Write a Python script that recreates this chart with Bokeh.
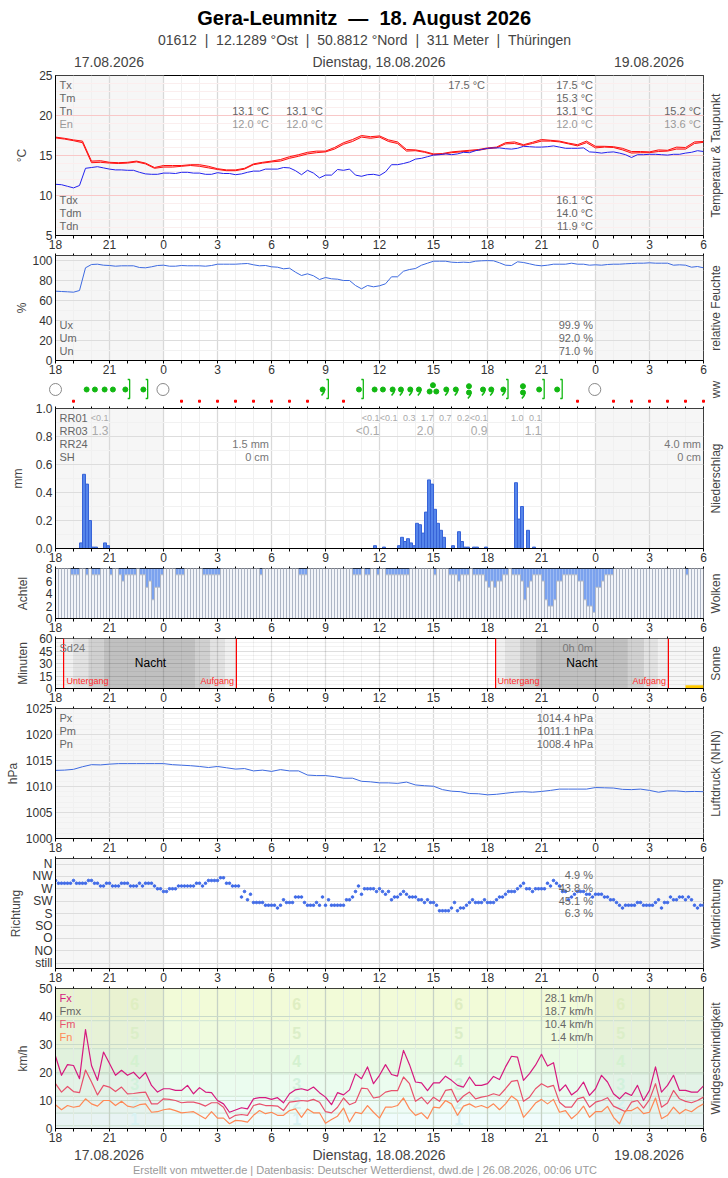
import math
import numpy as np
from bokeh.embed import file_html
from bokeh.resources import INLINE
from bokeh.layouts import column
from bokeh.plotting import figure
from bokeh.models import Range1d, FixedTicker, Label, NumeralTickFormatter
from bokeh.core.properties import value

FONT = "Liberation Sans"

# ---------- data ----------
tx = [17.3,17.15,16.95,16.8,14.3,14.35,14.15,14.1,14.15,14.3,14.05,13.5,13.75,13.75,13.75,13.85,13.85,13.65,13.35,13.2,13.2,13.4,13.95,14.15,14.3,14.5,14.85,15.1,15.4,15.55,15.55,16.0,16.6,17.0,17.5,17.35,17.45,16.95,16.7,15.75,15.7,15.5,15.2,15.25,15.45,15.55,15.65,15.75,15.95,16.05,16.6,16.7,16.35,16.65,17.0,16.9,16.8,16.55,16.35,16.8,16.15,16.15,16.1,15.9,15.5,15.5,15.45,15.7,15.65,16.05,16.0,16.7,16.75]
tn = [17.2,17.05,16.85,16.6,14.1,14.15,14.05,14.0,14.05,14.2,13.95,13.4,13.55,13.55,13.65,13.75,13.65,13.45,13.25,13.1,13.1,13.3,13.85,14.05,14.2,14.3,14.65,14.9,15.2,15.35,15.45,15.8,16.4,16.75,17.3,17.15,17.3,16.75,16.5,15.55,15.6,15.4,15.1,15.15,15.35,15.45,15.55,15.65,15.85,15.95,16.45,16.5,16.25,16.5,16.8,16.8,16.7,16.45,16.2,16.6,15.95,16.05,16.0,15.7,15.3,15.35,15.35,15.5,15.55,15.8,15.8,16.5,16.65]
td = [11.4,11.35,11.15,10.95,11.25,13.4,13.5,13.6,13.45,13.3,13.2,13.2,13.15,13.15,12.9,12.7,12.65,12.65,12.8,12.8,12.75,12.9,12.9,12.8,12.8,12.65,12.65,12.85,12.75,12.75,12.6,12.7,12.9,13.05,13.05,13.3,13.3,13.3,13.5,13.45,13.1,12.6,13.15,12.8,12.2,12.55,12.55,13.25,13.15,13.3,12.55,12.4,12.6,12.65,12.5,12.95,13.85,13.85,14.0,14.2,14.55,14.65,14.85,15.05,15.1,15.2,15.1,15.2,15.4,15.35,15.6,15.75,15.9,15.95,15.95,15.85,15.8,15.9,16.15,16.1,16.05,16.05,16.1,16.2,16.05,15.9,15.9,15.9,15.95,15.45,15.4,15.3,15.4,15.45,15.3,15.1,14.75,15.1,15.1,15.15,15.15,15.1,15.05,15.15,15.15,15.3,15.4,15.6,15.5]
humidity = [69.3,69,68.7,68.3,70,92.7,96,96.3,95.3,95,94.3,94.7,94.7,94.7,93,92.7,93.7,95,95.3,94.3,94.3,95,94.7,94.7,94.7,94.3,95,96.3,96.3,96.3,96.3,96.7,97,95.7,94.7,95,93.7,93.3,91.7,92.3,88.3,85,86.7,84.7,81,83,81.7,81.3,80,80,75,71.7,75,73.7,74.7,76.7,83.7,83.7,89.3,91,92,95.3,97.3,99.3,99.3,99.3,98.3,98,98.3,98,99.3,99.7,99.9,99.7,97.7,95.3,95,98.7,98,96.7,95.3,94.7,95.3,96.3,96.3,96.3,97.3,96.3,96.3,95.3,95.7,95.3,96,96.3,96.3,96.7,97,97.3,97.3,97.7,97.3,97.3,97.3,95.3,95.7,95.3,93.3,94,92.7]
pressure = [1013.1,1013.15,1013.3,1013.8,1014.2,1014.15,1014.3,1014.4,1014.4,1014.4,1014.4,1014.4,1014.4,1014.2,1014.1,1014.0,1013.85,1013.65,1013.85,1013.6,1013.35,1013.45,1013.0,1013.15,1012.9,1013.25,1013.0,1013.0,1012.2,1012.1,1012.1,1011.9,1011.6,1011.6,1011.0,1010.9,1010.7,1010.7,1010.6,1010.85,1010.3,1010.15,1010.05,1009.4,1009.1,1009.0,1008.65,1008.6,1008.4,1008.5,1008.7,1008.9,1009.0,1008.9,1009.05,1009.25,1009.5,1009.5,1009.5,1009.5,1009.8,1009.75,1009.7,1009.45,1009.4,1009.5,1009.25,1008.9,1009.15,1009.15,1009.0,1009.05,1009.0]
wind_dir = [300,290,290,290,290,290,300,290,290,290,290,300,300,290,290,280,280,290,290,280,280,280,290,290,290,280,280,280,290,280,290,290,290,280,270,270,260,260,270,270,270,280,280,280,280,280,280,290,290,280,290,300,300,300,300,310,310,290,290,280,280,280,240,260,230,250,220,220,220,220,210,210,210,210,200,210,230,220,220,220,240,240,240,220,210,210,210,220,210,240,210,230,210,210,210,210,210,230,230,240,260,280,250,270,270,270,270,260,270,260,250,260,230,240,240,250,260,250,240,240,240,230,230,220,230,220,220,210,190,190,190,190,200,220,190,200,200,210,220,230,220,220,220,230,220,220,220,230,240,240,250,260,260,260,270,280,290,270,270,260,270,270,270,270,290,280,300,290,280,260,260,230,240,250,260,260,260,250,250,240,250,250,250,240,240,230,230,220,210,200,210,210,210,210,220,220,210,210,210,210,220,230,200,220,220,240,230,230,240,240,230,240,230,210,200,210,210]
fx = [25.8,19,22.8,22.5,17.8,35.3,22.5,17.2,27.3,23.2,19,20.8,19,20.1,17.8,20,15.4,13,14.2,14.2,13.6,13.6,15.4,12.4,14.6,13,12.8,10,8.8,5.8,6.6,7.4,7,10.6,11,11,10.4,11,9.2,12.4,13.8,14.2,13.6,14.8,12.8,11.2,8.5,12.8,12,13.8,19.5,17.8,22,16,19,22.8,19.3,18.7,27.9,22.8,16.6,16.3,13.5,16.3,16.3,18.7,17.2,15.4,14.8,18.4,15.4,15.4,16,18.6,17.5,22,25.8,25.5,17.2,19.6,22.6,26.5,22.3,23.5,13.4,15.6,12,13.6,16.6,11.8,14.2,19,16.6,12.4,10.6,12.8,11.8,15.4,10,13.6,22,13,15.4,19,13.6,13.6,13,13,15.2]
fm = [16,13,15,13.2,12.8,20.9,16.6,12,15.4,14.8,13.2,14.8,12.4,12.5,12.8,13,8.8,8.8,10.6,10.4,10,9.2,9.4,9.4,8.9,8,9.2,9.2,7.6,3.5,4.7,5,4.7,8.2,8.8,8.2,8.2,8,6.4,9.4,9.7,10,9.8,10.4,9.4,6,5.6,7.6,10.9,8.5,9.4,14.4,14.2,10.9,11.3,13,13.5,13.5,18.4,16,9.7,11.2,8.8,11.2,9.7,13.6,14,9.4,11.6,13,10.6,11.2,11.6,12.4,11.8,14.2,16.8,17.2,9.7,11.2,14.2,16,14.8,15.4,9.4,7.6,7.6,10.6,11.2,7.6,9.4,10,11,8,7,6,9.4,10,7.3,10.3,16,7.6,9.1,13.6,10.6,9.7,9.2,10,11.2]
fn = [8.5,6.7,8.2,7.6,8,10.6,8.8,8,10,10,8.2,9.7,8,7.6,8.5,8.8,5.8,6,6.7,7,6.4,5.6,5.8,6,4.7,3.5,6,3.7,3.7,1.7,2.9,2.7,2.3,4.7,6.4,5.3,5.8,4.7,4.7,6.4,7,4,7,5.6,5.6,1.9,3.2,4.4,7.3,2.3,5.8,5.3,8.2,5.8,3.7,7.6,7.6,8.2,10.9,7,4.7,5.6,3.5,7.6,7.4,10,8.8,4.7,8,8.8,7.6,8.2,7.3,8.8,6.7,8.8,11.6,10,4,6.4,9.1,10.4,8.8,10.4,5.8,6.4,3.5,5.3,8,4,6,6,7.9,4,1.7,6.4,6.4,7.6,5.3,5.8,10.9,3.5,4.7,7.6,5.3,6.8,6,7.6,8.8]
clouds = [8,8,8,8,8,7,7,7,8,8,7,8,7,7,7,8,8,8,
          7,8,8,7,6,7,7,7,7,8,7,7,5,6,3,5,5,7,
          8,8,8,8,7,7,7,8,8,8,8,8,8,7,7,7,7,7,
          7,8,8,8,8,8,8,8,8,8,8,8,8,8,7,8,8,8,
          8,8,8,8,8,8,8,8,8,7,7,7,8,8,8,8,8,8,
          8,8,8,8,8,8,8,8,8,7,7,7,8,7,7,8,8,7,
          8,8,7,7,7,7,7,7,7,7,8,8,8,8,8,8,8,8,
          7,8,8,8,8,7,7,7,6,7,7,7,8,7,7,7,7,6,
          5,6,5,6,6,7,7,8,7,7,7,6,3,5,6,7,7,7,
          6,3,2,2,3,6,6,7,7,7,7,7,6,6,3,2,2,1,
          5,5,6,7,7,7,8,8,8,8,8,8,8,8,8,8,8,8,
          8,8,8,8,8,8,8,8,8,8,8,8,7,8,8,8,8,8]
rr_slots = [8,9,10,11,12,13,16,17,106,109,114,115,116,117,118,119,120,121,122,123,124,125,126,127,128,129,132,134,135,136,137,139,140,143,153,154,155,157,159]
rr_values = [.04,.53,.46,.2,.01,.01,.04,.02,.02,.01,.02,.08,.05,.07,.04,.02,.18,.17,.11,.26,.49,.46,.28,.18,.13,.08,.02,.12,.05,.01,.01,.01,.01,.01,.47,.21,.30,.13,.01]
rr01_hours = [18,19,20,21,22,23,24,26,27]
rr01_texts = ["<0.1","<0.1","0.3","1.7","0.7","0.2","<0.1","1.0","0.1"]
rr03_hours = [18,21,24,27]
rr03_texts = ["<0.1","2.0","0.9","1.1"]
ww_clear = [0.0, 5.97, 29.96]
ww_rain = [1.73,2.19,2.73,3.19,3.88,4.88,16.86,17.73,18.19,26.87,27.87]
ww_drizzle = [14.84,18.73,19.19,19.71,20.19,21.71,22.24,23.75,24.21,24.88]
ww_dots_three = [20.97]
ww_double = [22.97,25.97]
ww_shower = [4.12,5.12,15.16,17.1,25.14,27.15,28.15]
ww_marker = [1,7,8,9,10,11,12,13,14,16,29,31,32,33,34,35,36]
sunset = [0.45, 24.45]
sunrise = [10.05, 34.05]
twilight_left = [0.45,1.03,1.82,2.69,7.75,8.62,9.42, 24.45,25.0,25.8,26.69,31.8,32.7,33.47]
twilight_right = [1.03,1.82,2.69,7.75,8.62,9.42,10.05, 25.0,25.8,26.69,31.8,32.7,33.47,34.05]
twilight_colors = ["#f0f0f0","#e2e2e2","#d0d0d0","#c0c0c0","#d0d0d0","#e2e2e2","#f0f0f0"]*2
sun_hours = [35]
sun_minutes = [4]
bft_edges = [0,1,5.5,11.5,19.5,28.5,38.5,50]
bft_colors = ["#f1fafb","#f0fcfc","#eefcf7","#ebfcef","#e9fbe5","#effbde","#f2fbd8"]
bft_numbers = ["1","2","3","4","5","6"]
bft_levels = [3.5,9,16,24,34,44.6]
bft_number_colors = ["#d9f2f3","#d4f2ee","#d2f1dc","#d4f1d0","#dbeec8","#dfeec2"]
bft_hours = [4.4,13.4,22.4,31.4]

hours = list(range(37))
night_left = [0, 30]
night_right = [6, 36]

x30 = np.arange(len(tx)) * 0.5
x20 = np.arange(len(td)) / 3
x10 = np.arange(len(wind_dir)) / 6

# ---------- helpers ----------
FL = 55
SC = 18
W = 724
PAGE_H = 1176
maj3 = [h for h in hours if h % 3 == 0]
min1 = [h for h in hours if h % 3 != 0]
hour_labels = {h: str((18 + h) % 24) for h in maj3}
TXT = "#333333"

# transparent sheet over all panels: free texts and the panels' upper tick marks, in page pixels
ov = figure(width=W, height=PAGE_H, x_range=Range1d(0, W), y_range=Range1d(PAGE_H, 0),
            min_border_left=0, min_border_right=0, min_border_top=0, min_border_bottom=0,
            output_backend="svg", toolbar_location=None, border_fill_color=None,
            background_fill_color=None, outline_line_color=None, x_axis_type=None, y_axis_type=None,
            frame_align=False, margin=(-PAGE_H, 0, 0, 0))
ov.xgrid.visible = False
ov.ygrid.visible = False


def lab(px, py, text, size=11, color="#666666", align="left", bold=False, angle=0):
    shift = 0 if angle else -1
    ov.add_layout(Label(x=px, y=py + shift, text=text, text_font=FONT, text_font_size=f"{size}px",
                        text_color=color, text_align=align, text_baseline="middle",
                        text_font_style="bold" if bold else "normal", angle=angle))


def panel(top, bot, ymin, ymax, T, B, margin, ylabel, standoff, yticks, yminor,
          rlabel, gmaj="#dddddd", gmin="#f1f1f1", top_axis=True, shade=True, overrides=None, fmt=None):
    h = bot - top
    p = figure(width=W, height=T + h + B, x_range=Range1d(0, 36), y_range=Range1d(ymin, ymax),
               min_border_left=FL, min_border_right=W - FL - 648, min_border_top=T, min_border_bottom=B,
               output_backend="svg", toolbar_location=None, border_fill_color=None,
               background_fill_color=None, outline_line_color="black", outline_line_width=1,
               frame_align=False, margin=(margin, 0, 0, 0))
    xa = p.xaxis[0]
    xa.ticker = FixedTicker(ticks=maj3, minor_ticks=min1)
    xa.major_label_overrides = hour_labels
    xa.major_tick_in = 0
    xa.major_tick_out = 3
    xa.minor_tick_in = 0
    xa.minor_tick_out = 3
    xa.minor_tick_line_color = "black"
    xa.axis_line_color = "black"
    xa.major_label_standoff = 1
    xa.major_label_text_font = FONT
    xa.major_label_text_font_size = "12px"
    xa.major_label_text_color = TXT
    ya = p.yaxis[0]
    ya.ticker = FixedTicker(ticks=yticks)
    if overrides:
        ya.major_label_overrides = overrides
    if fmt:
        ya.formatter = NumeralTickFormatter(format=fmt)
    ya.major_tick_line_color = None
    ya.minor_tick_line_color = None
    ya.major_tick_in = 0
    ya.major_tick_out = 0
    ya.major_label_standoff = 3
    ya.major_label_text_font = FONT
    ya.major_label_text_font_size = "12px"
    ya.major_label_text_color = TXT
    ya.axis_line_color = "black"
    ya.axis_label = ylabel
    ya.axis_label_text_font = FONT
    ya.axis_label_text_font_size = "12px"
    ya.axis_label_text_font_style = "normal"
    ya.axis_label_text_color = "#444444"
    ya.axis_label_standoff = standoff
    gx = p.xgrid[0]
    gx.ticker = FixedTicker(ticks=maj3, minor_ticks=min1)
    gx.grid_line_color = "#d9d9d9"
    gx.grid_line_width = 1.3
    gx.minor_grid_line_color = "#f0f0f0"
    gy = p.ygrid[0]
    gy.ticker = FixedTicker(ticks=yticks, minor_ticks=yminor)
    gy.grid_line_color = gmaj
    gy.minor_grid_line_color = gmin
    if top_axis:
        tx0 = [FL + t * SC for t in hours]
        ov.segment(x0=tx0, y0=[top - 2] * len(tx0), x1=tx0, y1=[top] * len(tx0), line_color="black", line_width=1)
    if shade:
        p.quad(left=night_left, right=night_right, bottom=[ymin, ymin], top=[ymax, ymax],
               fill_color="#f6f6f6", line_color=None, level="image")
    lab(715, (top + bot) / 2, rlabel, 12, "#444444", "center", angle=math.pi / 2)
    return p


def rows(items, size=11):
    for it in items:
        lab(it[0], it[1], it[2], size, it[3] if len(it) > 3 else "#666666",
            it[4] if len(it) > 4 else "left")


RX = 592.5
GR = "#666666"
LG = "#999999"
NB = "\u00a0\u00a0"

# ---------- 1 temperature ----------
p1 = panel(75, 235, 5, 25, 75, 20, 0, "°C", 7, [5, 10, 15, 20, 25],
           list(range(6, 25)), "Temperatur & Taupunkt", gmaj="#f8c8c8", gmin="#fbeeee", top_axis=False)
p1.varea(x=x30, y1=tn, y2=tx, fill_color="#ff6060", fill_alpha=0.4)
p1.line(x30, tx, line_color="#ff1010", line_width=1, line_join="round")
p1.line(x30, tn, line_color="#ff1010", line_width=1, line_join="round")
p1.line(x20, td, line_color="#2222ee", line_width=1, line_join="round")
lab(364, 18, f"Gera-Leumnitz{NB}—{NB}18. August 2026", 20, "#000000", "center", True)
lab(364, 40, f"01612{NB}|{NB}12.1289 °Ost{NB}|{NB}50.8812 °Nord{NB}|{NB}311 Meter{NB}|{NB}Thüringen", 14, "#444444", "center")
lab(108.5, 62, "17.08.2026", 14, "#444444", "center")
lab(378.5, 62, "Dienstag, 18.08.2026", 14, "#444444", "center")
lab(648.5, 62, "19.08.2026", 14, "#444444", "center")
rows([(59, 85, "Tx"), (59, 98, "Tm"), (59, 111, "Tn"), (59, 124, "En", LG),
      (59, 200, "Tdx"), (59, 213, "Tdm"), (59, 226, "Tdn"),
      (268.5, 111, "13.1 °C", GR, "right"), (268.5, 124, "12.0 °C", LG, "right"),
      (322.5, 111, "13.1 °C", GR, "right"), (322.5, 124, "12.0 °C", LG, "right"),
      (484.5, 85, "17.5 °C", GR, "right"),
      (RX, 85, "17.5 °C", GR, "right"), (RX, 98, "15.3 °C", GR, "right"),
      (RX, 111, "13.1 °C", GR, "right"), (RX, 124, "12.0 °C", LG, "right"),
      (700.5, 111, "15.2 °C", GR, "right"), (700.5, 124, "13.6 °C", LG, "right"),
      (RX, 200, "16.1 °C", GR, "right"), (RX, 213, "14.0 °C", GR, "right"), (RX, 226, "11.9 °C", GR, "right")])

# ---------- 2 humidity ----------
p2 = panel(255, 360, 0, 105, 10, 20, -10, "%", 0, [0, 20, 40, 60, 80, 100],
           [10, 30, 50, 70, 90], "relative Feuchte")
p2.line(x20, humidity, line_color="#3d6ae0", line_width=1, line_join="round")
rows([(59, 325, "Ux"), (59, 338, "Um"), (59, 351, "Un"),
      (RX, 325, "99.9 %", GR, "right"), (RX, 338, "92.0 %", GR, "right"), (RX, 351, "71.0 %", GR, "right")])

# ---------- 3 ww symbols ----------
p3 = figure(width=W, height=46, x_range=Range1d(-1, 36.5), y_range=Range1d(0, 46),
            min_border_left=FL - SC, min_border_right=W - (FL - SC) - 675, min_border_top=0, min_border_bottom=0,
            output_backend="svg", toolbar_location=None, border_fill_color=None,
            background_fill_color=None, outline_line_color=None, x_axis_type=None, y_axis_type=None,
            frame_align=False, margin=(-19, 0, 0, 0))
p3.xgrid.visible = False
p3.ygrid.visible = False
GREEN = "#12b812"
WY = 18
p3.scatter(ww_clear, [WY] * len(ww_clear), marker="circle", size=12, fill_color=None, line_color="#888888", line_width=1)
p3.scatter(ww_rain, [WY] * len(ww_rain), marker="circle", size=5, color=GREEN)
p3.scatter(ww_drizzle, [WY] * len(ww_drizzle), marker="circle", size=5, color=GREEN)
p3.scatter(ww_double, [WY + 3.3] * len(ww_double), marker="circle", size=5, color=GREEN)
p3.scatter(ww_double, [WY - 3] * len(ww_double), marker="circle", size=5, color=GREEN)
tail_x = [[h + 0.11, h + 0.07, h - 0.06] for h in ww_drizzle + ww_double]
tail_y = [[WY, WY - 3, WY - 6] for h in ww_drizzle] + [[WY - 3, WY - 6, WY - 9] for h in ww_double]
p3.multi_line(tail_x, tail_y, line_color=GREEN, line_width=1.5)
for h in ww_dots_three:
    p3.scatter([h - 0.185, h, h + 0.185], [WY - 2, WY + 4.3, WY - 2], marker="circle", size=5, color=GREEN)
p3.multi_line([[h - 0.11, h, h, h - 0.11] for h in ww_shower], [[28, 28, 9, 9] for h in ww_shower],
              line_color=GREEN, line_width=1.3)
p3.scatter(ww_marker, [6.3] * len(ww_marker), marker="square", size=2, color="#ff0000")
lab(715, 389, "ww", 12, "#444444", "center", angle=math.pi / 2)

# ---------- 4 precipitation ----------
p4 = panel(408, 548, 0, 1, 10, 20, -9, "mm", 8, [0, .2, .4, .6, .8, 1],
           [.1, .3, .5, .7, .9], "Niederschlag", fmt="0.0")
rr_left = [s / 6 for s in rr_slots]
rr_right = [(s + 1) / 6 for s in rr_slots]
p4.quad(left=rr_left, right=rr_right, bottom=[0] * len(rr_slots), top=rr_values, fill_color="#5585ea", line_color="#3763d8", line_width=1)
rows([(59, 418, "RR01"), (59, 431, "RR03"), (59, 444, "RR24"), (59, 457, "SH"),
      (268.5, 444, "1.5 mm", "#777777", "right"), (268.5, 457, "0 cm", "#777777", "right"),
      (700.5, 444, "4.0 mm", "#777777", "right"), (700.5, 457, "0 cm", "#777777", "right")])
lab(108, 418, "<0.1", 9, "#aaaaaa", "right")
lab(108, 431, "1.3", 12, "#aaaaaa", "right")
for hh, tt in zip(rr01_hours, rr01_texts):
    lab(FL + hh * SC, 418, tt, 9, "#aaaaaa", "right")
for hh, tt in zip(rr03_hours, rr03_texts):
    lab(FL + hh * SC, 431, tt, 12, "#aaaaaa", "right")

# ---------- 5 clouds ----------
p5 = panel(568, 618, 0, 8, 10, 20, -10, "Achtel", 13, [0, 2, 4, 6, 8], [], "Wolken", shade=False, gmaj=None, gmin=None)
cl_left = x10[:-1]
cl_right = x10[1:]
gap_l = [l for l, c in zip(cl_left, clouds) if c < 8]
gap_r = [r for r, c in zip(cl_right, clouds) if c < 8]
gap_b = [c for c in clouds if c < 8]
p5.quad(left=gap_l, right=gap_r, bottom=gap_b, top=[8] * len(gap_b), fill_color="#7ba2ee", line_color=None)
p5.quad(left=cl_left, right=cl_right, bottom=[0] * len(clouds), top=clouds, fill_color="#f2f4f9", line_color="#aeb6c6", line_width=1)

# ---------- 6 sun ----------
p6 = panel(638, 688, 0, 60, 10, 20, -10, "Minuten", 6, [0, 15, 30, 45, 60],
           [5, 10, 20, 25, 35, 40, 50, 55], "Sonne", gmaj="#000000", gmin="#000000")
p6.ygrid[0].grid_line_alpha = 0.13
p6.ygrid[0].minor_grid_line_alpha = 0.05
p6.xgrid[0].grid_line_color = "#000000"
p6.xgrid[0].grid_line_alpha = 0.12
p6.xgrid[0].minor_grid_line_color = "#000000"
p6.xgrid[0].minor_grid_line_alpha = 0.05
p6.quad(left=twilight_left, right=twilight_right, bottom=[0] * 14, top=[60] * 14, fill_color=twilight_colors, line_color=None, level="image")
edges = sunset + sunrise
p6.segment(x0=edges, y0=[0] * 4, x1=edges, y1=[60] * 4, line_color="#ff0000", line_width=1.2)
p6.quad(left=sun_hours, right=[h + 1 for h in sun_hours], bottom=[0], top=sun_minutes, fill_color="#ffc800", line_color=None)
lab(59, 648, "Sd24", 11, "#777777")
lab(RX, 648, "0h 0m", 11, "#777777", "right")
lab(150, 663, "Nacht", 12, "#000000", "center")
lab(581.5, 663, "Nacht", 12, "#000000", "center")
lab(66, 681, "Untergang", 9, "#ff2a2a")
lab(233.5, 681, "Aufgang", 9, "#ff2a2a", "right")
lab(497, 681, "Untergang", 9, "#ff2a2a")
lab(665.5, 681, "Aufgang", 9, "#ff2a2a", "right")

# ---------- 7 pressure ----------
p7 = panel(708, 838, 1000, 1025, 10, 20, -10, "hPa", 3, [1000, 1005, 1010, 1015, 1020, 1025],
           [v for v in range(1000, 1026) if v % 5], "Luftdruck (NHN)")
p7.line(x30, pressure, line_color="#3d6ae0", line_width=1, line_join="round")
rows([(59, 718, "Px"), (59, 731, "Pm"), (59, 744, "Pn"),
      (RX, 718, "1014.4 hPa", GR, "right"), (RX, 731, "1011.1 hPa", GR, "right"), (RX, 744, "1008.4 hPa", GR, "right")])

# ---------- 8 wind direction ----------
dir_ticks = [0, 45, 90, 135, 180, 225, 270, 315, 360]
dir_labels = ["still", "NO", "O", "SO", "S", "SW", "W", "NW", "N"]
p8 = panel(858, 968, -20, 380, 10, 20, -10, "Richtung", 7, dir_ticks, [], "Windrichtung",
           overrides=dict(zip(dir_ticks, dir_labels)))
p8.scatter(x10, wind_dir, marker="circle", size=2.6, color="#3f6ae8")
rows([(RX, 875, "4.9 %", GR, "right"), (RX, 888, "43.8 %", GR, "right"),
      (RX, 901, "45.1 %", GR, "right"), (RX, 913, "6.3 %", GR, "right")])

# ---------- 9 wind speed ----------
p9 = panel(988, 1128, 0, 50, 10, 48, -10, "km/h", 6, [0, 10, 20, 30, 40, 50], [],
           "Windgeschwindigkeit", gmaj="#c9dac9", shade=False)
p9.xgrid[0].grid_line_color = "#c6d2c6"
p9.xgrid[0].minor_grid_line_color = "#e2ece2"
p9.quad(left=[0] * 7, right=[36] * 7, bottom=bft_edges[:-1], top=bft_edges[1:], fill_color=bft_colors, line_color=None, level="image")
n_inner = len(bft_edges) - 2
p9.segment(x0=[0] * n_inner, y0=bft_edges[1:-1], x1=[36] * n_inner, y1=bft_edges[1:-1], line_color="#cfe6d4", line_width=1, level="image")
p9.quad(left=night_left, right=night_right, bottom=[0, 0], top=[50, 50], fill_color="#808080", fill_alpha=0.07, line_color=None, level="underlay")
for hh in bft_hours:
    p9.text(x=[hh] * 6, y=bft_levels, text=bft_numbers, text_color=bft_number_colors,
            text_font=value(FONT), text_font_size="16px", text_font_style="bold",
            text_align="center", text_baseline="middle", level="underlay")
p9.line(x20, fx, line_color="#d6197f", line_width=1.2, line_join="round")
p9.line(x20, fm, line_color="#e8516c", line_width=1.2, line_join="round")
p9.line(x20, fn, line_color="#ff8855", line_width=1.2, line_join="round")
rows([(59, 998, "Fx", "#d6197f"), (59, 1011, "Fmx", "#666666"), (59, 1024, "Fm", "#e8516c"), (59, 1037, "Fn", "#ff8855"),
      (RX, 998, "28.1 km/h", GR, "right"), (RX, 1011, "18.7 km/h", GR, "right"),
      (RX, 1024, "10.4 km/h", GR, "right"), (RX, 1037, "1.4 km/h", GR, "right")])
lab(108.5, 1155, "17.08.2026", 14, "#444444", "center")
lab(378.5, 1155, "Dienstag, 18.08.2026", 14, "#444444", "center")
lab(648.5, 1155, "19.08.2026", 14, "#444444", "center")
lab(364.5, 1170.5, "Erstellt von mtwetter.de | Datenbasis: Deutscher Wetterdienst, dwd.de | 26.08.2026, 00:06 UTC", 11, "#999999", "center")

layout = column(p1, p2, p3, p4, p5, p6, p7, p8, p9, ov, spacing=0)
open("out.html", "w").write(file_html(layout, INLINE))
